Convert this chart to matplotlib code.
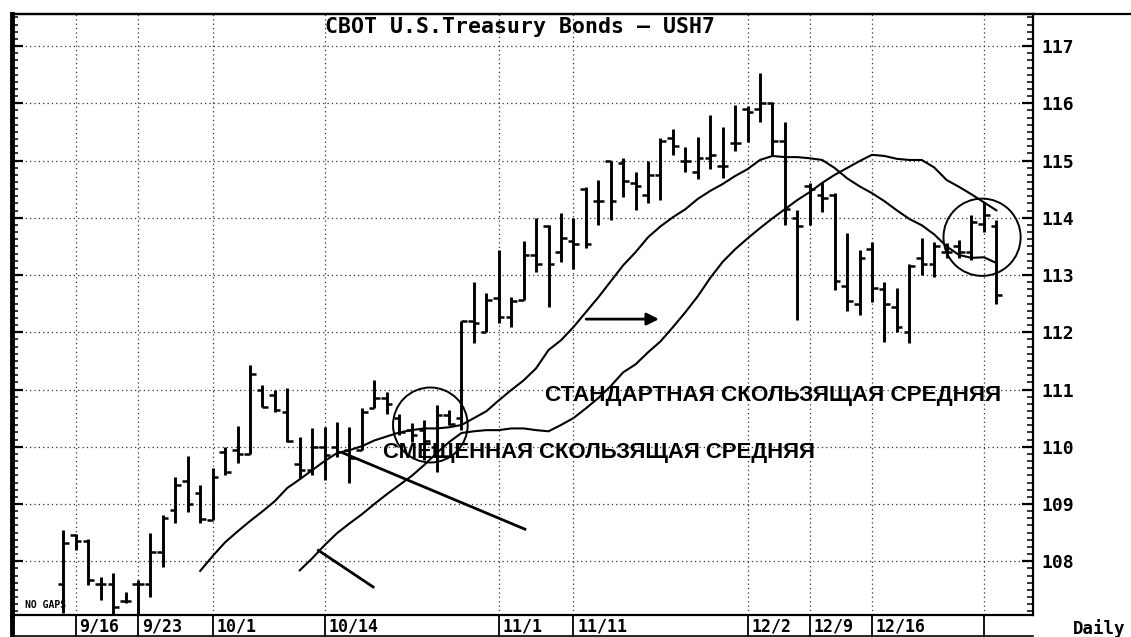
import matplotlib
matplotlib.use('Agg')
import matplotlib.pyplot as plt
import matplotlib.ticker as ticker
import matplotlib.transforms as mtransforms
from matplotlib.patches import Ellipse
from matplotlib.lines import Line2D

# ── daily bars (index = trading day, 0 = 9/13) ───────────────────────────
highs = [108.54, 108.47, 108.38, 107.72, 107.79, 107.46, 107.67, 108.49, 108.80, 109.47,
         109.83, 109.33, 109.62, 110.00, 110.36, 111.42, 111.08, 110.99, 111.02, 110.17,
         110.32, 110.34, 110.43, 110.34, 110.67, 111.16, 110.95, 110.58, 110.41, 110.46,
         110.73, 110.64, 112.20, 112.88, 112.68, 113.43, 112.62, 113.60, 114.00, 113.87,
         114.08, 114.00, 114.54, 114.66, 115.00, 115.04, 114.80, 115.00, 115.39, 115.55,
         115.23, 115.41, 115.80, 115.58, 115.97, 115.95, 116.53, 116.02, 115.67, 114.13,
         114.60, 114.62, 114.43, 113.73, 113.44, 113.58, 112.88, 112.77, 113.20, 113.64,
         113.58, 113.56, 113.61, 114.05, 114.27, 113.96]
lows = [107.10, 108.19, 107.58, 107.32, 107.06, 107.27, 107.05, 107.37, 107.90, 108.66,
        108.86, 108.66, 108.72, 109.50, 109.71, 109.87, 110.69, 110.60, 110.08, 109.45,
        109.50, 109.42, 109.82, 109.36, 109.94, 110.67, 110.58, 110.20, 110.08, 109.76,
        109.56, 110.38, 110.30, 111.81, 112.00, 112.16, 112.09, 112.56, 113.05, 112.44,
        113.23, 113.10, 113.47, 113.87, 113.96, 114.36, 114.13, 114.26, 114.31, 115.10,
        114.80, 114.67, 114.86, 114.69, 115.17, 115.32, 115.67, 115.10, 113.87, 112.21,
        113.87, 114.10, 112.74, 112.38, 112.30, 112.53, 111.83, 112.00, 111.81, 113.00,
        112.97, 113.30, 113.30, 113.26, 113.75, 112.50]
opens = [107.60, 108.45, 108.35, 107.60, 107.60, 107.30, 107.60, 107.60, 108.16, 108.90,
         109.40, 109.20, 108.72, 109.90, 109.95, 109.87, 111.00, 110.90, 110.60, 109.70,
         109.60, 110.00, 110.00, 109.95, 109.94, 110.67, 110.85, 110.50, 110.30, 110.30,
         110.00, 110.55, 110.50, 112.20, 112.00, 112.60, 112.27, 112.56, 113.35, 113.85,
         113.40, 113.60, 114.50, 114.30, 115.00, 114.95, 114.60, 114.40, 114.75, 115.40,
         115.00, 114.80, 115.05, 114.90, 115.30, 115.90, 115.90, 116.00, 115.35, 114.00,
         114.55, 114.40, 114.40, 112.80, 112.50, 113.45, 112.75, 112.45, 112.00, 113.30,
         113.20, 113.40, 113.50, 113.40, 113.90, 113.85]
closes = [108.31, 108.35, 107.67, 107.60, 107.20, 107.30, 107.60, 108.16, 108.75, 109.33,
          109.00, 108.73, 109.48, 109.55, 109.87, 111.27, 110.69, 110.65, 110.10, 109.60,
          110.00, 109.85, 109.90, 109.80, 110.60, 110.85, 110.75, 110.25, 110.20, 110.10,
          110.55, 110.40, 112.20, 112.17, 112.57, 112.27, 112.55, 113.35, 113.20, 113.20,
          113.64, 113.55, 113.55, 114.30, 114.30, 114.65, 114.55, 114.75, 115.35, 115.25,
          115.00, 115.05, 115.10, 114.90, 115.30, 115.85, 116.00, 115.35, 114.16, 113.86,
          114.50, 114.35, 112.90, 112.55, 113.30, 112.77, 112.50, 112.10, 113.15, 113.20,
          113.50, 113.40, 113.40, 113.93, 114.05, 112.65]

# standard moving average, first value at bar 11
ma_start = 11
ma_values = [107.83, 108.09, 108.33, 108.52, 108.70, 108.87, 109.05, 109.28, 109.43, 109.59,
             109.75, 109.89, 109.94, 110.01, 110.11, 110.18, 110.25, 110.29, 110.32, 110.32,
             110.34, 110.38, 110.50, 110.62, 110.81, 110.99, 111.16, 111.37, 111.69, 111.86,
             112.09, 112.35, 112.61, 112.89, 113.17, 113.40, 113.66, 113.85, 114.01, 114.15,
             114.33, 114.47, 114.59, 114.73, 114.85, 115.01, 115.08, 115.06, 115.06, 115.04,
             115.01, 114.87, 114.69, 114.55, 114.43, 114.29, 114.13, 113.98, 113.87, 113.71,
             113.50, 113.35, 113.30, 113.31, 113.21]

# displaced moving average, first value at bar 19
shift_start = 19
shift_values = [107.84, 108.05, 108.28, 108.49, 108.66, 108.82, 109.00, 109.17, 109.33, 109.49,
                109.68, 109.89, 110.08, 110.24, 110.27, 110.29, 110.29, 110.32, 110.32, 110.29,
                110.27, 110.38, 110.50, 110.67, 110.85, 111.06, 111.30, 111.44, 111.65, 111.84,
                112.09, 112.35, 112.63, 112.95, 113.23, 113.45, 113.64, 113.82, 113.99, 114.15,
                114.31, 114.45, 114.61, 114.75, 114.87, 114.99, 115.10, 115.08, 115.03, 115.01,
                115.01, 114.88, 114.66, 114.54, 114.41, 114.27, 114.13]

date_idx = [1, 6, 12, 21, 35, 41, 55, 60, 65, 74]
date_labels = ['9/16', '9/23', '10/1', '10/14', '11/1', '11/11', '12/2', '12/9', '12/16', '']
price_ticks = [108, 109, 110, 111, 112, 113, 114, 115, 116, 117]

# hand-drawn marker lines, circles and arrow
line_a_x, line_a_y = [22.5, 37.1], [109.89, 108.56]
line_b_x, line_b_y = [20.5, 24.9], [108.19, 107.55]
circle_1 = (29.5, 110.38)
circle_2 = (73.85, 113.66)
arrow_x, arrow_y = [41.8, 48.1], 112.23

label_std = 'СТАНДАРТНАЯ СКОЛЬЗЯЩАЯ СРЕДНЯЯ'
label_shift = 'СМЕЩЕННАЯ СКОЛЬЗЯЩАЯ СРЕДНЯЯ'
title = 'CBOT U.S.Treasury Bonds — USH7'

mono = 'DejaVu Sans Mono'

fig = plt.figure(figsize=(11.31, 6.37), dpi=100, facecolor='white')
ax = fig.add_axes([0.0106, 0.0345, 0.9027, 0.9435])
ax.set_facecolor('white')

# ── OHLC bars ────────────────────────────────────────────────────────────
idx = list(range(len(highs)))
ax.vlines(idx, lows, highs, color='black', lw=2.1, zorder=3)
ax.hlines(opens, [i - 0.45 for i in idx], idx, color='black', lw=1.8, zorder=3)
ax.hlines(closes, idx, [i + 0.45 for i in idx], color='black', lw=1.8, zorder=3)

# ── moving averages ──────────────────────────────────────────────────────
ma_x = [ma_start + k for k in range(len(ma_values))]
ax.plot(ma_x, ma_values, color='black', lw=1.5, zorder=4)
shift_x = [shift_start + k for k in range(len(shift_values))]
ax.plot(shift_x, shift_values, color='black', lw=1.5, zorder=4)

# ── annotations ──────────────────────────────────────────────────────────
ax.plot(line_a_x, line_a_y, color='black', lw=2.0, zorder=4)
ax.plot(line_b_x, line_b_y, color='black', lw=2.0, zorder=4)
ax.add_patch(Ellipse(circle_1, 6.0, 1.31, fill=False, lw=1.4, color='black', zorder=4))
ax.add_patch(Ellipse(circle_2, 6.2, 1.35, fill=False, lw=1.4, color='black', zorder=4))
ax.annotate('', xy=(arrow_x[1], arrow_y), xytext=(arrow_x[0], arrow_y),
            arrowprops=dict(arrowstyle='-|>', color='black', lw=2.0,
                            mutation_scale=18), zorder=5)
ax.text(38.7, 110.9, label_std, fontsize=16.2, fontweight='bold',
        family='Liberation Sans', ha='left', va='center', zorder=6)
ax.text(25.7, 109.9, label_shift, fontsize=15.9, fontweight='bold',
        family='Liberation Sans', ha='left', va='center', zorder=6)

# ── axes, grid, ticks ────────────────────────────────────────────────────
ax.set_xlim(-4.13, 77.94)
ax.set_ylim(107.06, 117.56)
ax.set_xticks(date_idx)
ax.set_xticklabels([])
ax.set_yticks(price_ticks)
ax.yaxis.set_minor_locator(ticker.MultipleLocator(0.125))
ax.grid(True, which='major', linestyle=(0, (1, 2.5)), color='#333333', lw=0.9)

ax.tick_params(axis='x', direction='out', length=16, width=1.3, color='black')
ax.tick_params(axis='y', which='major', direction='in', length=8, width=1.6,
               left=True, right=True, labelleft=False, labelright=True, pad=6)
ax.tick_params(axis='y', which='minor', direction='in', length=4, width=1.1,
               left=True, right=True)
for lab in ax.get_yticklabels():
    lab.set_fontfamily(mono)
    lab.set_fontweight('bold')
    lab.set_fontsize(13)

ax.spines['left'].set_linewidth(3.5)
for s in ['right', 'top', 'bottom']:
    ax.spines[s].set_linewidth(1.6)

trans = mtransforms.blended_transform_factory(ax.transData, ax.transAxes)
for d, lab in zip(date_idx, date_labels):
    ax.text(d + 0.3, -0.019, lab, transform=trans, ha='left', va='center',
            fontsize=12, fontweight='bold', family=mono, clip_on=False)

ax.text(0.4975, 0.978, title, transform=ax.transAxes, ha='center', va='center',
        fontsize=15.5, fontweight='bold', family=mono)
ax.text(0.013, 0.017, 'NO GAPS', transform=ax.transAxes, ha='left', va='center',
        fontsize=7, fontweight='bold', family=mono)
fig.text(0.949, 0.014, 'Daily', ha='left', va='center', fontsize=12.5,
         fontweight='bold', family=mono)

# frame pieces outside the plot box
fig.add_artist(Line2D([0.0106, 1.0], [0.978, 0.978], color='black', lw=1.6))
fig.add_artist(Line2D([0.0106, 0.9133], [0.002, 0.002], color='black', lw=1.2))
fig.add_artist(Line2D([0.0106, 0.0106], [0.0, 0.0345], color='black', lw=3.5))

fig.savefig('out.png', dpi=100, facecolor='white')
